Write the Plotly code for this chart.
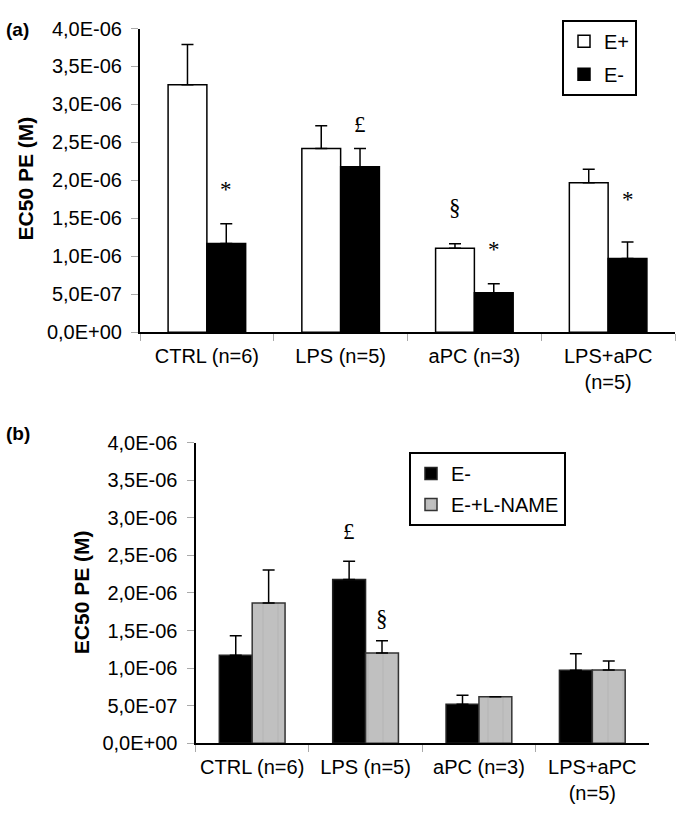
import plotly.graph_objects as go

# ---------------- data ----------------
categories = ["CTRL (n=6)", "LPS (n=5)", "aPC (n=3)", "LPS+aPC<br>(n=5)"]

a_e_plus = [3.26e-6, 2.42e-6, 1.105e-6, 1.97e-6]
a_e_plus_err = [0.53e-6, 0.30e-6, 0.06e-6, 0.175e-6]
e_minus = [1.17e-6, 2.18e-6, 0.52e-6, 0.97e-6]
e_minus_err = [0.26e-6, 0.24e-6, 0.12e-6, 0.22e-6]
b_lname = [1.865e-6, 1.20e-6, 0.62e-6, 0.975e-6]
b_lname_err = [0.44e-6, 0.165e-6, 0.0, 0.12e-6]

ytick_vals = [0, 0.5e-6, 1.0e-6, 1.5e-6, 2.0e-6, 2.5e-6, 3.0e-6, 3.5e-6, 4.0e-6]
ytick_labels = ["0,0E+00", "5,0E-07", "1,0E-06", "1,5E-06", "2,0E-06",
                "2,5E-06", "3,0E-06", "3,5E-06", "4,0E-06"]

# significance marks: (category index, series, symbol, pixel shift above error bar)
marks_a = [(0, "E-", "*", 34), (1, "E-", "£", 24), (2, "E+", "§", 36),
           (2, "E-", "*", 34), (3, "E-", "*", 42)]
marks_b = [(1, "E-", "£", 30), (1, "L", "§", 22)]

W, H = 685, 828
BARGAP = 0.42
FONT = "Liberation Sans, Arial, sans-serif"
SERIF = "Liberation Serif, Times New Roman, serif"

fig = go.Figure()

def err(vals):
    return dict(type="data", symmetric=False, array=vals, arrayminus=[0] * len(vals),
                color="black", thickness=1.5, width=6, visible=True)

fig.add_trace(go.Bar(x=categories, y=a_e_plus, name="E+", xaxis="x", yaxis="y",
                     marker=dict(color="white", line=dict(color="black", width=1.5)),
                     error_y=err(a_e_plus_err), legend="legend", legendgroup="a1"))
fig.add_trace(go.Bar(x=categories, y=e_minus, name="E-", xaxis="x", yaxis="y",
                     marker=dict(color="black", line=dict(color="black", width=1.5)),
                     error_y=err(e_minus_err), legend="legend", legendgroup="a2"))
fig.add_trace(go.Bar(x=categories, y=e_minus, name="E-", xaxis="x2", yaxis="y2",
                     marker=dict(color="black", line=dict(color="#222", width=1.5)),
                     error_y=err(e_minus_err), legend="legend2", legendgroup="b1"))
fig.add_trace(go.Bar(x=categories, y=b_lname, name="E-+L-NAME", xaxis="x2", yaxis="y2",
                     marker=dict(color="#c0c0c0", line=dict(color="#333", width=1.5),
                                 pattern=dict(shape="|", fgcolor="#a9a9a9", size=15,
                                              solidity=0.08, bgcolor="#c0c0c0")),
                     error_y=err(b_lname_err), legend="legend2", legendgroup="b2"))

xa = dict(type="category", showline=True, linecolor="black", linewidth=2,
          ticks="outside", tickson="boundaries", ticklen=7, tickcolor="#aaaaaa",
          tickfont=dict(family=FONT, size=20, color="black"), ticklabelstandoff=5,
          showgrid=False, zeroline=False, fixedrange=True)
ya = dict(range=[0, 4e-6], tickvals=ytick_vals, ticktext=ytick_labels,
          showline=True, linecolor="black", linewidth=2, ticks="outside", ticklen=7,
          tickcolor="#aaaaaa", tickfont=dict(family=FONT, size=20, color="black"),
          ticklabelstandoff=5, showgrid=False, zeroline=False)

fig.update_layout(
    width=W, height=H, margin=dict(l=0, r=0, t=0, b=0),
    paper_bgcolor="white", plot_bgcolor="white",
    barmode="group", bargap=BARGAP, bargroupgap=0,
    showlegend=True,
    xaxis=dict(xa, domain=[140 / W, 675 / W], anchor="y"),
    yaxis=dict(ya, domain=[1 - 330 / H, 1 - 18 / H], anchor="x"),
    xaxis2=dict(xa, domain=[195.5 / W, 649 / W], anchor="y2"),
    yaxis2=dict(ya, domain=[1 - 752.3 / H, 1 - 443.3 / H], anchor="x2"),
    legend=dict(x=562 / W, y=1 - 9 / H, xanchor="left", yanchor="top",
                bordercolor="black", borderwidth=2, bgcolor="white",
                font=dict(family=FONT, size=20, color="black"),
                tracegroupgap=4, traceorder="grouped"),
    legend2=dict(x=409 / W, y=1 - 453 / H, xanchor="left", yanchor="top",
                 bordercolor="black", borderwidth=2, bgcolor="white",
                 font=dict(family=FONT, size=20, color="black"),
                 tracegroupgap=2, traceorder="grouped"),
)

offset = (1 - BARGAP) / 4
ann = []
for idx, series, sym, shift in marks_a:
    if series == "E+":
        x = idx - offset
        y = a_e_plus[idx] + a_e_plus_err[idx]
    else:
        x = idx + offset
        y = e_minus[idx] + e_minus_err[idx]
    ann.append(dict(x=x, y=y, xref="x", yref="y", text=sym, showarrow=False,
                    yanchor="middle", yshift=shift,
                    font=dict(family=SERIF, size=23, color="black")))
for idx, series, sym, shift in marks_b:
    if series == "E-":
        x = idx - offset
        y = e_minus[idx] + e_minus_err[idx]
    else:
        x = idx + offset
        y = b_lname[idx] + b_lname_err[idx]
    ann.append(dict(x=x, y=y, xref="x2", yref="y2", text=sym, showarrow=False,
                    yanchor="middle", yshift=shift,
                    font=dict(family=SERIF, size=23, color="black")))

ann += [
    dict(x=4 / W, y=1 - 19.5 / H, xref="paper", yref="paper", text="<b>(a)</b>",
         showarrow=False, xanchor="left", yanchor="middle",
         font=dict(family=FONT, size=19, color="black")),
    dict(x=4 / W, y=1 - 434 / H, xref="paper", yref="paper", text="<b>(b)</b>",
         showarrow=False, xanchor="left", yanchor="middle",
         font=dict(family=FONT, size=19, color="black")),
    dict(x=25 / W, y=1 - 172 / H, xref="paper", yref="paper", text="<b>EC50 PE (M)</b>",
         showarrow=False, textangle=-90, xanchor="center", yanchor="middle",
         font=dict(family=FONT, size=21, color="black")),
    dict(x=81 / W, y=1 - 597 / H, xref="paper", yref="paper", text="<b>EC50 PE (M)</b>",
         showarrow=False, textangle=-90, xanchor="center", yanchor="middle",
         font=dict(family=FONT, size=21, color="black")),
]
fig.update_layout(annotations=ann)

fig.write_html("out.html", config={"displayModeBar": False},
               post_script="document.body.style.margin='0';")
